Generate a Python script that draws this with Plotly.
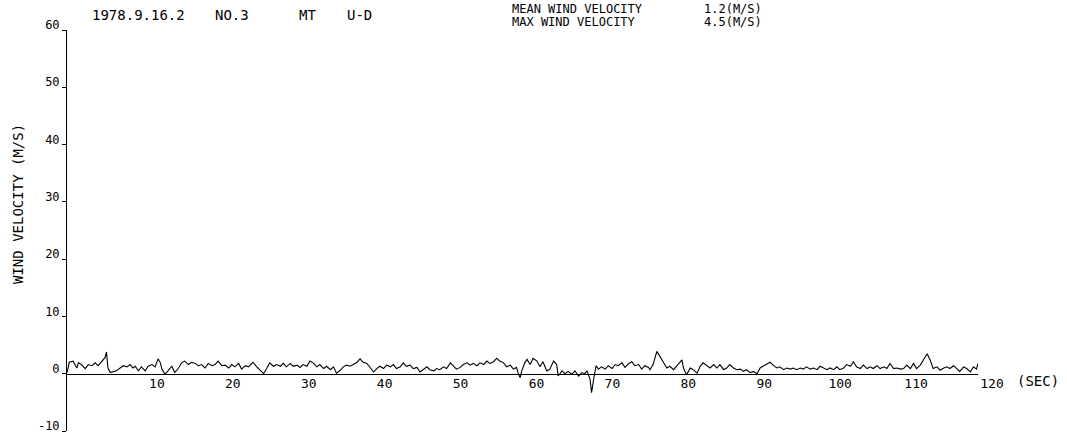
import plotly.graph_objects as go

# ---- data ----
time_sec = [
    0.0, 0.3, 0.8, 1.3, 1.5, 1.9, 2.4, 2.8, 3.3, 3.7, 4.1, 4.6, 5.0, 5.2, 5.4, 5.7, 6.1, 6.5, 7.0, 7.4,
    7.9, 8.3, 8.7, 9.0, 9.4, 9.8, 10.3, 10.7, 11.2, 11.6, 12.0, 12.3, 12.5, 12.9, 13.3, 13.8, 14.2, 14.7, 15.1, 15.5,
    16.0, 16.4, 16.9, 17.3, 17.7, 18.2, 18.6, 19.1, 19.5, 19.9, 20.4, 20.8, 21.3, 21.7, 22.1, 22.6, 23.0, 23.5, 23.9,
    24.5, 25.0, 25.4, 25.9, 26.3, 26.7, 27.2, 27.6, 28.1, 28.5, 28.9, 29.4, 29.8, 30.3, 30.7, 31.1, 31.6, 32.0, 32.5,
    32.9, 33.3, 33.8, 34.2, 34.7, 35.1, 35.5, 36.0, 36.4, 36.8, 37.3, 37.7, 38.2, 38.6, 39.0, 39.5, 39.9, 40.4, 40.8,
    41.2, 41.7, 42.1, 42.6, 43.0, 43.4, 43.9, 44.3, 44.7, 45.2, 45.6, 46.1, 46.5, 46.9, 47.4, 47.8, 48.3, 48.7, 49.1,
    49.6, 50.0,
    50.5, 50.9, 51.3, 51.8, 52.2, 52.7, 53.1, 53.5, 54.0, 54.4, 54.9, 55.3, 55.7, 56.2, 56.6, 57.0, 57.5, 57.9, 58.4,
    58.8, 59.2, 59.5, 59.7, 59.9, 60.3, 60.6, 61.0, 61.4, 61.9, 62.3, 62.7, 63.2, 63.6, 64.1, 64.5, 64.7, 65.2, 65.6,
    66.0, 66.5, 66.9, 67.4, 67.8, 68.2, 68.5, 68.9, 69.1, 69.4, 69.7, 70.0, 70.4, 70.9, 71.3, 71.8, 72.2, 72.6, 73.1,
    73.5, 74.0, 74.4, 74.8, 75.3, 75.7, 76.1, 76.6,
    76.8, 77.2, 77.7, 78.1, 78.6, 79.0, 79.4, 79.9, 80.3, 80.8, 81.0, 81.2, 81.6, 82.1, 82.5, 83.0, 83.4, 83.8, 84.3,
    84.7, 85.2, 85.6, 86.0, 86.5, 86.9, 87.3, 87.8, 88.2, 88.7, 89.1, 89.5, 90.0, 90.4, 90.9, 91.3, 91.7, 92.2, 92.6,
    93.1, 93.5, 93.9, 94.4, 94.8, 95.3, 95.7, 96.1, 96.6, 97.0, 97.4, 97.9, 98.3, 98.8, 99.2, 99.6, 100.1, 100.5,
    101.0, 101.4, 101.8, 102.3, 102.7, 103.2,
    103.6, 104.0, 104.5, 104.9, 105.4, 105.8, 106.2, 106.7, 107.1, 107.6, 108.0, 108.4, 108.9, 109.3, 109.8, 110.2,
    110.6, 111.1, 111.5, 111.9, 112.4, 112.8, 113.3, 113.7, 114.1, 114.6, 115.0, 115.5, 115.9, 116.3, 116.8, 117.2,
    117.6, 118.1, 118.5, 119.0, 119.4, 119.8, 120.0,
]
wind_ms = [
    0.2, 2.0, 2.2, 1.0, 1.9, 1.6, 0.9, 1.6, 1.4, 1.9, 1.4, 2.2, 2.8, 3.8, 1.0, 0.2, 0.3, 0.5, 1.0, 1.4,
    1.2, 1.6, 1.0, 1.3, 0.5, 1.2, 0.5, 1.3, 1.6, 1.2, 2.6, 1.9, 0.8, -0.1, 0.5, 1.3, 0.2, 1.0, 1.9, 2.2,
    1.6, 2.0, 1.8, 1.4, 1.6, 1.0, 1.8, 1.4, 1.6, 2.2, 1.4, 1.5, 1.0, 1.6, 1.2, 1.8, 0.8, 1.4, 1.2,
    2.0, 1.2, 0.6, 0.0, 0.9, 1.9, 1.3, 1.6, 1.3, 1.8, 1.2, 1.8, 1.3, 1.5, 1.1, 1.6, 1.3, 2.2, 1.8,
    1.2, 1.6, 0.9, 1.3, 0.7, 1.2, 0.1, 0.6, 1.2, 1.5, 1.3, 1.6, 2.0, 2.6, 2.0, 1.8, 1.2, 0.3, 0.9,
    1.3, 0.9, 1.5, 1.2, 1.6, 0.9, 1.2, 1.9, 1.3, 1.5, 0.9, 1.1, 0.3, 0.7, 1.2, 0.7, 0.5, 0.9, 0.7,
    1.2, 0.9,
    1.9, 1.4, 0.8, 1.1, 1.6, 1.9, 1.5, 1.8, 1.4, 1.9, 1.6, 2.2, 1.8, 2.1, 2.7, 2.2, 1.9, 1.2, 1.5,
    0.8, 1.1, -0.2, -0.7, 0.5, 1.9, 2.5, 1.6, 2.7, 2.2, 1.2, 2.1, 0.5, 0.8, 2.2, 1.6, -0.4, 0.5, 0.0,
    0.4, -0.1, 0.5, -0.4, 0.2, 0.0, 0.5, -1.0, -3.3, -0.7, 1.4, 0.8, 1.2, 0.8, 1.4, 0.9, 1.6, 1.4, 1.9,
    1.1, 1.8, 2.1, 1.4, 1.6, 0.8, 1.4, 1.1,
    0.7, 1.6, 3.9, 3.1, 1.9, 1.0, 1.3, 0.7, 1.3, 2.2, 2.4, 1.0, -0.2, 1.0, 0.7, 0.1, 1.3, 1.9, 1.4,
    1.0, 1.6, 1.0, 1.6, 0.7, 1.0, 1.6, 1.0, 0.7, 0.8, 0.4, 0.7, 0.2, 0.4, 0.0, 1.0, 1.3, 1.6, 2.0,
    1.4, 1.0, 1.2, 0.7, 1.0, 0.8, 1.0, 0.7, 1.0, 0.8, 1.2, 0.8, 1.0, 0.7, 1.3, 1.0, 0.7, 1.0,
    0.7, 1.2, 0.7, 1.0, 1.6, 1.3,
    2.1, 1.2, 0.9, 1.5, 0.9, 1.2, 0.9, 1.4, 0.9, 1.2, 0.9, 1.8, 0.9, 1.0, 0.8, 0.9,
    1.5, 0.9, 1.8, 0.9, 1.5, 2.4, 3.5, 2.4, 0.9, 1.2, 0.6, 1.0, 1.2, 0.9, 1.4, 0.9,
    0.4, 1.2, 0.9, 0.3, 1.2, 0.8, 1.8,
]
x_ticks = [10, 20, 30, 40, 50, 60, 70, 80, 90, 100, 110, 120]
y_ticks = [-10, 0, 10, 20, 30, 40, 50, 60]
header_left = ["1978.9.16.2", "NO.3", "MT", "U-D"]
header_right_labels = ["MEAN WIND VELOCITY", "MAX WIND VELOCITY"]
header_right_values = ["1.2(M/S)", "4.5(M/S)"]
y_title = "WIND VELOCITY (M/S)"
x_unit = "(SEC)"

FONT = "DejaVu Sans Mono"
W, H = 1067, 433
L, R, T, B = 67, 89, 30, 2
PW, PH = W - L - R, H - T - B


def px_x(p):
    return (p - L) / PW


def px_y(p):
    return (H - B - p) / PH


fig = go.Figure()
fig.add_trace(go.Scatter(x=time_sec, y=wind_ms, mode="lines",
                         line=dict(color="black", width=1.1), showlegend=False,
                         cliponaxis=False))

ann = []
for txt, xp in zip(header_left, [90, 213, 297, 345]):
    ann.append(dict(text=txt, xref="paper", yref="paper", x=px_x(xp), y=px_y(15),
                    xanchor="left", yanchor="middle", showarrow=False,
                    font=dict(family=FONT, size=14, color="black")))
for txt, yp in zip(header_right_labels, [9, 22]):
    ann.append(dict(text=txt, xref="paper", yref="paper", x=px_x(510), y=px_y(yp),
                    xanchor="left", yanchor="middle", showarrow=False,
                    font=dict(family=FONT, size=12, color="black")))
for txt, yp in zip(header_right_values, [9, 22]):
    ann.append(dict(text=txt, xref="paper", yref="paper", x=px_x(702), y=px_y(yp),
                    xanchor="left", yanchor="middle", showarrow=False,
                    font=dict(family=FONT, size=12, color="black")))
ann.append(dict(text=y_title, xref="paper", yref="paper", x=px_x(18), y=px_y(204),
                xanchor="center", yanchor="middle", textangle=-90, showarrow=False,
                font=dict(family=FONT, size=14, color="black")))
ann.append(dict(text=x_unit, x=120, y=0, xref="x", yref="y", xanchor="left",
                yanchor="middle", xshift=37, yshift=-7, showarrow=False,
                font=dict(family=FONT, size=14, color="black")))

fig.update_layout(
    width=W, height=H,
    margin=dict(l=L, r=R, t=T, b=B, pad=0),
    paper_bgcolor="white", plot_bgcolor="white",
    annotations=ann,
    xaxis=dict(range=[0, 120], anchor="free", position=10 / 70, showline=True,
               linecolor="black", linewidth=1, showgrid=False, zeroline=False,
               tickvals=x_ticks, ticktext=[str(v) for v in x_ticks], ticks="",
               ticklabelshift=14, ticklabelstandoff=-2, automargin=False,
               tickfont=dict(family=FONT, size=13, color="black")),
    yaxis=dict(range=[-10, 60], showline=True, linecolor="black", linewidth=1,
               showgrid=False, zeroline=False, tickvals=y_ticks,
               ticktext=[str(v) for v in y_ticks], ticks="outside", ticklen=4,
               tickcolor="black", ticklabelshift=-5, automargin=False,
               ticklabeloverflow="allow",
               tickfont=dict(family=FONT, size=12, color="black")),
)

fig.write_html("out.html")
